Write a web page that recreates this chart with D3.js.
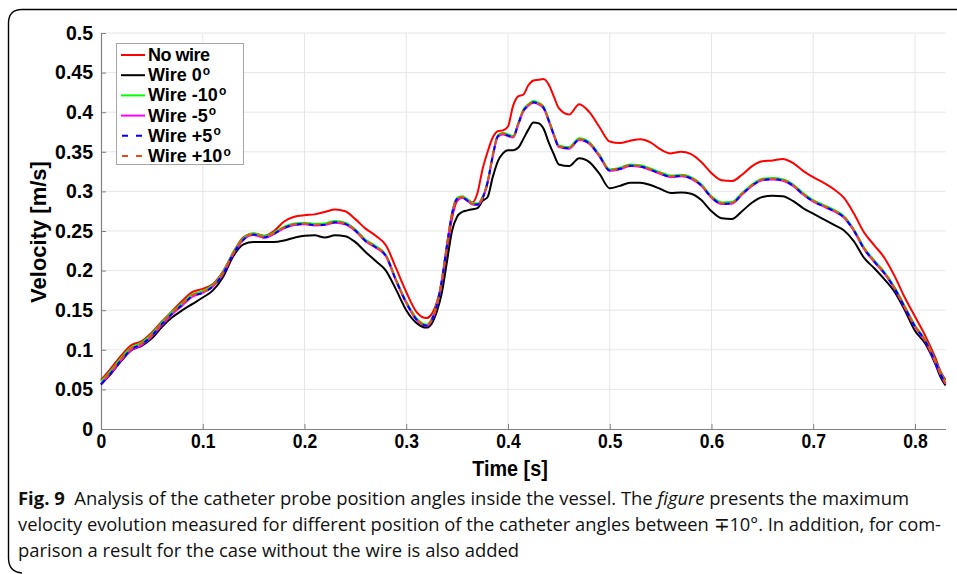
<!DOCTYPE html>
<html><head><meta charset="utf-8">
<script src="https://cdn.jsdelivr.net/npm/d3@7"></script>
<style>body{margin:0;background:#fff}</style></head>
<body><svg id="c" width="957" height="574"></svg>
<script>
const time=[0,0.01,0.02,0.03,0.04,0.05,0.06,0.07,0.08,0.09,0.10,0.11,0.12,0.13,0.14,0.15,0.16,0.17,0.18,0.19,0.20,0.21,0.22,0.23,0.24,0.25,0.26,0.27,0.28,0.29,0.30,0.31,0.32,0.325,0.33,0.335,0.34,0.345,0.35,0.355,0.36,0.365,0.37,0.375,0.38,0.385,0.39,0.395,0.40,0.405,0.41,0.415,0.42,0.425,0.43,0.435,0.44,0.445,0.45,0.46,0.47,0.48,0.49,0.50,0.51,0.52,0.53,0.54,0.55,0.56,0.57,0.58,0.59,0.60,0.61,0.62,0.63,0.64,0.65,0.66,0.67,0.68,0.69,0.70,0.71,0.72,0.73,0.74,0.75,0.76,0.77,0.78,0.79,0.80,0.81,0.82,0.825,0.83];
const noWire=[0.062,0.077,0.093,0.106,0.111,0.122,0.136,0.149,0.162,0.173,0.177,0.183,0.199,0.223,0.242,0.247,0.244,0.250,0.262,0.268,0.270,0.271,0.274,0.277,0.275,0.265,0.253,0.244,0.232,0.203,0.173,0.148,0.140,0.145,0.160,0.185,0.226,0.266,0.288,0.292,0.290,0.286,0.298,0.328,0.350,0.368,0.376,0.377,0.382,0.408,0.420,0.422,0.434,0.440,0.441,0.442,0.435,0.420,0.405,0.397,0.410,0.400,0.381,0.363,0.361,0.364,0.366,0.362,0.353,0.348,0.350,0.347,0.337,0.323,0.314,0.313,0.321,0.332,0.338,0.339,0.341,0.336,0.326,0.318,0.311,0.303,0.292,0.272,0.248,0.232,0.216,0.193,0.166,0.142,0.118,0.090,0.073,0.062];
const wire0=[0.0565,0.070,0.086,0.0995,0.105,0.1145,0.129,0.141,0.150,0.158,0.166,0.175,0.192,0.218,0.233,0.236,0.236,0.236,0.238,0.2415,0.244,0.2445,0.2418,0.2445,0.2435,0.236,0.2235,0.212,0.200,0.176,0.150,0.134,0.128,0.133,0.148,0.172,0.211,0.250,0.268,0.274,0.276,0.2775,0.279,0.288,0.293,0.318,0.338,0.348,0.352,0.352,0.355,0.366,0.378,0.387,0.386,0.379,0.362,0.347,0.334,0.332,0.342,0.337,0.322,0.304,0.307,0.311,0.311,0.308,0.303,0.298,0.2985,0.297,0.289,0.275,0.266,0.265,0.275,0.286,0.293,0.2945,0.294,0.288,0.279,0.272,0.265,0.258,0.251,0.237,0.216,0.203,0.189,0.173,0.150,0.124,0.108,0.082,0.066,0.055];
const wireM10=[0.060,0.074,0.090,0.103,0.109,0.120,0.135,0.148,0.159,0.170,0.174,0.182,0.198,0.223,0.241,0.247,0.2435,0.248,0.2555,0.2595,0.2605,0.259,0.2595,0.2625,0.2605,0.252,0.239,0.231,0.220,0.189,0.161,0.140,0.132,0.139,0.157,0.189,0.233,0.273,0.292,0.294,0.290,0.2855,0.285,0.293,0.313,0.346,0.371,0.374,0.372,0.370,0.386,0.403,0.410,0.414,0.412,0.407,0.391,0.373,0.358,0.356,0.367,0.362,0.346,0.328,0.330,0.334,0.333,0.329,0.324,0.320,0.321,0.318,0.309,0.294,0.286,0.2865,0.298,0.309,0.316,0.317,0.3155,0.309,0.298,0.289,0.283,0.277,0.269,0.252,0.229,0.213,0.198,0.179,0.155,0.131,0.113,0.086,0.071,0.059];
const wireM5=[0.057,0.071,0.087,0.100,0.106,0.117,0.132,0.145,0.156,0.167,0.172,0.180,0.196,0.221,0.239,0.245,0.2415,0.246,0.2535,0.2575,0.2585,0.257,0.2575,0.2605,0.2585,0.250,0.237,0.229,0.218,0.187,0.159,0.138,0.130,0.137,0.155,0.187,0.231,0.271,0.290,0.292,0.288,0.2835,0.283,0.291,0.311,0.344,0.369,0.372,0.370,0.368,0.384,0.401,0.408,0.412,0.410,0.405,0.389,0.371,0.356,0.354,0.365,0.360,0.344,0.326,0.328,0.332,0.331,0.327,0.322,0.318,0.319,0.316,0.307,0.292,0.284,0.2845,0.296,0.307,0.314,0.315,0.3135,0.307,0.296,0.287,0.281,0.275,0.267,0.250,0.227,0.211,0.196,0.177,0.153,0.129,0.111,0.084,0.069,0.057];
const wireP5=[0.056,0.071,0.087,0.101,0.107,0.118,0.133,0.146,0.157,0.168,0.172,0.180,0.196,0.221,0.239,0.2455,0.242,0.2465,0.254,0.258,0.259,0.2575,0.258,0.261,0.259,0.2505,0.2375,0.2295,0.2185,0.1875,0.1595,0.1385,0.1305,0.1375,0.1555,0.1875,0.2315,0.2715,0.2905,0.2925,0.2885,0.284,0.2835,0.2915,0.3115,0.3445,0.3695,0.3725,0.3705,0.3685,0.3845,0.4015,0.4085,0.4125,0.4105,0.4055,0.3895,0.3715,0.3565,0.3545,0.3655,0.3605,0.3445,0.3265,0.3285,0.3325,0.3315,0.3275,0.3225,0.3185,0.3195,0.3165,0.3075,0.2925,0.2845,0.285,0.2965,0.3075,0.3145,0.3155,0.314,0.3075,0.2965,0.2875,0.2815,0.2755,0.2675,0.2505,0.2275,0.2115,0.1965,0.1775,0.1535,0.1295,0.1115,0.0845,0.0695,0.0575];
const wireP10=[0.059,0.073,0.089,0.102,0.108,0.119,0.134,0.147,0.158,0.169,0.173,0.181,0.197,0.222,0.240,0.246,0.2425,0.247,0.2545,0.2585,0.2595,0.258,0.2585,0.2615,0.2595,0.251,0.238,0.230,0.219,0.188,0.160,0.139,0.131,0.138,0.156,0.188,0.232,0.272,0.291,0.293,0.289,0.2845,0.284,0.292,0.312,0.345,0.370,0.373,0.371,0.369,0.385,0.402,0.409,0.413,0.411,0.406,0.390,0.372,0.357,0.355,0.366,0.361,0.345,0.327,0.329,0.333,0.332,0.328,0.323,0.319,0.320,0.317,0.308,0.293,0.285,0.2855,0.297,0.308,0.315,0.316,0.3145,0.308,0.297,0.288,0.282,0.276,0.268,0.251,0.228,0.212,0.197,0.178,0.154,0.130,0.112,0.085,0.070,0.058];

const xTicks=[0,0.1,0.2,0.3,0.4,0.5,0.6,0.7,0.8];
const yTicks=[0,0.05,0.1,0.15,0.2,0.25,0.3,0.35,0.4,0.45,0.5];
const seriesNames=["No wire","Wire 0","Wire -10","Wire -5","Wire +5","Wire +10"];
const seriesColors=["#ff0000","#000000","#00ff00","#ff00ff","#0000ff","#d95319"];
const seriesDash=[null,null,null,null,"6,6","6,6"];
const seriesValues=[noWire,wire0,wireM10,wireM5,wireP5,wireP10];
const captionLines=[
  [{t:"Fig. 9",w:"bold"},{t:"  Analysis of the catheter probe position angles inside the vessel. The "},{t:"figure",s:"italic"},{t:" presents the maximum"}],
  [{t:"velocity evolution measured for different position of the catheter angles between \u221310\u00b0. In addition, for com-"}],
  [{t:"parison a result for the case without the wire is also added"}]
];

const svg=d3.select("#c");
const x=d3.scaleLinear().domain([0,0.83]).range([101,945.5]);
const y=d3.scaleLinear().domain([0,0.5]).range([429,33]);

// frame
svg.append("path").attr("d","M957,9.5 L22,9.5 Q8.5,9.5 8.5,23 L8.5,558 Q8.5,572 22,573")
  .attr("fill","none").attr("stroke","#000").attr("stroke-width",1.4);

// grid
const g=svg.append("g");
g.selectAll("line.gy").data(yTicks.slice(1)).join("line").attr("x1",x(0)).attr("x2",x(0.83))
  .attr("y1",d=>y(d)).attr("y2",d=>y(d)).attr("stroke","#e6e6e6").attr("stroke-width",1);
g.selectAll("line.gx").data(xTicks.slice(1)).join("line").attr("y1",y(0)).attr("y2",y(0.5))
  .attr("x1",d=>x(d)).attr("x2",d=>x(d)).attr("stroke","#e6e6e6").attr("stroke-width",1);

// axes
const font="'Liberation Sans', Arial, sans-serif";
const xa=svg.append("g").attr("transform",`translate(0,${y(0)})`)
  .call(d3.axisBottom(x).tickValues(xTicks).tickSizeInner(-5).tickSizeOuter(0).tickPadding(5).tickFormat(d=>d===0?"0":d3.format(".1f")(d)));
xa.select(".domain").attr("stroke","#808080").attr("stroke-width",1.2);
xa.selectAll(".tick line").attr("stroke","#808080");
xa.selectAll(".tick text").attr("font-family",font).attr("font-weight","bold").attr("font-size",19.5).attr("fill","#000")
  .attr("dy","0.72em").attr("transform","scale(0.9,1)");
const ya=svg.append("g").attr("transform",`translate(${x(0)},0)`)
  .call(d3.axisLeft(y).tickValues(yTicks).tickSizeInner(-5).tickSizeOuter(0).tickPadding(8).tickFormat(d=>String(+d.toFixed(2))));
ya.select(".domain").attr("stroke","#808080").attr("stroke-width",1.2);
ya.selectAll(".tick line").attr("stroke","#808080");
ya.selectAll(".tick text").attr("font-family",font).attr("font-weight","bold").attr("font-size",19.5).attr("fill","#000");

svg.append("text").attr("transform","translate(510,476) scale(0.9,1)").attr("text-anchor","middle").attr("font-family",font)
  .attr("font-weight","bold").attr("font-size",22).text("Time [s]");
svg.append("text").attr("transform","translate(46,232) rotate(-90)").attr("text-anchor","middle").attr("font-family",font)
  .attr("font-weight","bold").attr("font-size",22).text("Velocity [m/s]");

// lines
const line=d3.line().x((d,i)=>x(time[i])).y(d=>y(d)).curve(d3.curveMonotoneX);
seriesValues.forEach((vals,k)=>{
  const p=svg.append("path").attr("d",line(vals)).attr("fill","none").attr("stroke",seriesColors[k])
    .attr("stroke-width",2).attr("stroke-linejoin","round");
  if(seriesDash[k]){p.attr("stroke-dasharray",seriesDash[k]); if(k===5)p.attr("stroke-dashoffset",6);}
});

// legend
const lg=svg.append("g");
lg.append("rect").attr("x",116.5).attr("y",43.5).attr("width",127).attr("height",121).attr("fill","#fff").attr("stroke","#a6a6a6").attr("stroke-width",1);
seriesNames.forEach((n,k)=>{
  const ry=55+k*20.2;
  lg.append("line").attr("x1",121).attr("x2",145).attr("y1",ry).attr("y2",ry).attr("stroke",seriesColors[k]).attr("stroke-width",2)
    .attr("stroke-dasharray",seriesDash[k]?"6,8":null).attr("stroke-dashoffset",seriesDash[k]?-1:null);
  const t=lg.append("text").attr("x",148).attr("y",ry+6).attr("font-family",font).attr("font-weight","bold").attr("font-size",18)
    .attr("textLength",k===0?62:null).text(n);
  if(k>0) t.append("tspan").attr("font-size",12).attr("dx",1).attr("dy",-6.5).text("o");
});

// caption
const cf="'Open Sans', 'Noto Sans', sans-serif";
const capW=[891,923,501];
captionLines.forEach((ln,i)=>{
  const t=svg.append("text").attr("x",18).attr("y",505+i*26).attr("font-family",cf).attr("font-size",18.5).attr("fill","#111")
    .attr("textLength",capW[i]).attr("lengthAdjust","spacingAndGlyphs").attr("xml:space","preserve");
  ln.forEach(s=>{t.append("tspan").attr("font-weight",s.w||"normal").attr("font-style",s.s||"normal").text(s.t);});
});
</script></body></html>
